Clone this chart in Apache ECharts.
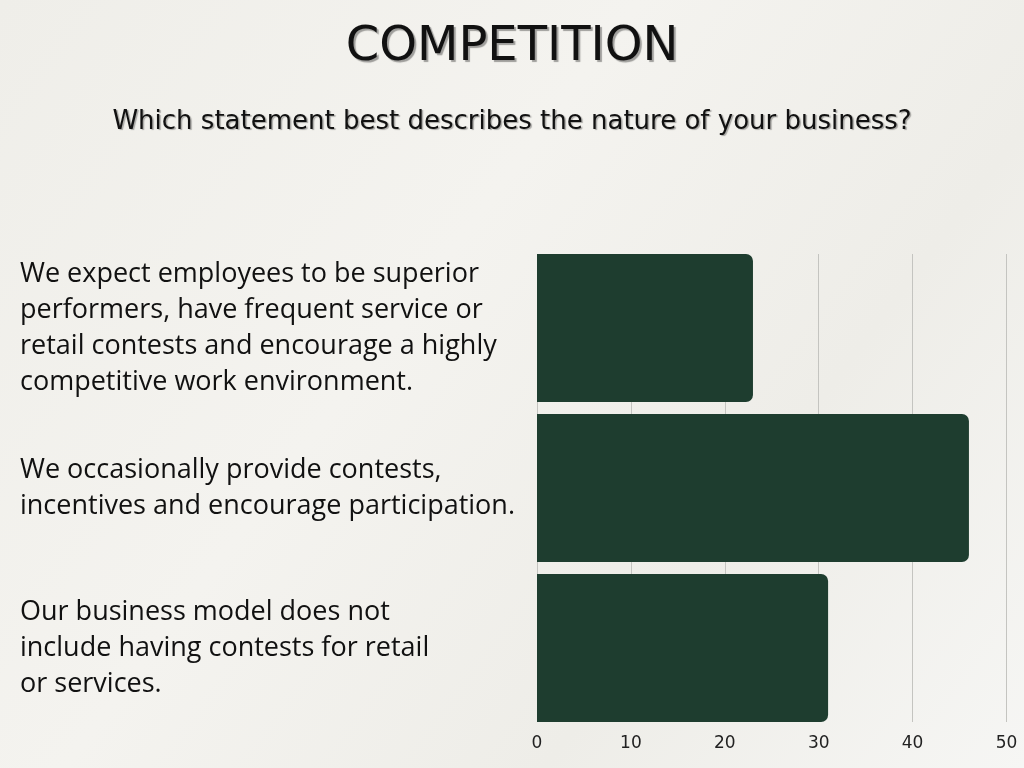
<!DOCTYPE html>
<html>
<head>
<meta charset="utf-8">
<script src="https://cdn.jsdelivr.net/npm/echarts@6/dist/echarts.min.js"></script>
<style>
html,body{margin:0;padding:0;width:1024px;height:768px;overflow:hidden;}
#chart{width:1024px;height:768px;}
</style>
</head>
<body>
<div id="chart"></div>
<script>
const titleText = "COMPETITION";
const subtitleText = "Which statement best describes the nature of your business?";
const categories = [
  "We expect employees to be superior\nperformers, have frequent service or\nretail contests and encourage a highly\ncompetitive work environment.",
  "We occasionally provide contests,\nincentives and encourage participation.",
  "Our business model does not\ninclude having contests for retail\nor services."
];
const values = [23, 46, 31];
const xTicks = [0, 10, 20, 30, 40, 50];

const chart = echarts.init(document.getElementById('chart'));
chart.setOption({
  animation: false,
  backgroundColor: {
    type: 'linear', x: 0, y: 0, x2: 1, y2: 1,
    colorStops: [
      {offset: 0, color: '#efeee9'},
      {offset: 0.4, color: '#f4f3ef'},
      {offset: 0.7, color: '#eeede8'},
      {offset: 1, color: '#f6f6f4'}
    ]
  },
  title: [
    {
      text: titleText, left: 'center', top: 19,
      textStyle: {fontFamily: 'DejaVu Sans', fontWeight: 'normal', fontSize: 48, color: '#111',
        textShadowColor: 'rgba(0,0,0,0.35)', textShadowOffsetX: 2, textShadowOffsetY: 2, textShadowBlur: 1}
    },
    {
      text: subtitleText, left: 'center', top: 104,
      textStyle: {fontFamily: 'DejaVu Sans', fontWeight: 'normal', fontSize: 26, color: '#111',
        textShadowColor: 'rgba(0,0,0,0.3)', textShadowOffsetX: 1.5, textShadowOffsetY: 1.5, textShadowBlur: 1}
    }
  ],
  grid: [
    {left: 537, right: 1024 - 1006.5, top: 248, bottom: 768 - 728, containLabel: false},
    {left: 537, right: 1024 - 1006.5, top: 254, bottom: 768 - 722, containLabel: false}
  ],
  xAxis: [
    {
      gridIndex: 0, type: 'value', min: 0, max: 50, interval: 10,
      axisLine: {show: false}, axisTick: {show: false},
      splitLine: {show: false}, axisLabel: {show: false}
    },
    {
      gridIndex: 1, type: 'value', min: 0, max: 50, interval: 10,
      axisLine: {show: false}, axisTick: {show: false},
      splitLine: {show: true, lineStyle: {color: '#c4c4c0', width: 1}},
      axisLabel: {
        fontFamily: 'DejaVu Sans', fontSize: 17, color: '#222', margin: 13,
        formatter: function (v) { return xTicks.indexOf(v) >= 0 ? String(v) : ''; }
      }
    }
  ],
  yAxis: [
    {
      gridIndex: 0, type: 'category', data: categories, inverse: true,
      axisLine: {show: false}, axisTick: {show: false},
      axisLabel: {
        align: 'left', margin: 517,
        fontFamily: 'Open Sans', fontSize: 27, lineHeight: 36, color: '#111'
      }
    },
    {
      gridIndex: 1, type: 'category', data: categories, inverse: true, show: false
    }
  ],
  series: [{
    type: 'bar', data: values, xAxisIndex: 0, yAxisIndex: 0,
    barCategoryGap: '7.5%', z: 3,
    itemStyle: {color: '#1e3d2f', borderRadius: [0, 7, 7, 0]}
  }]
});
</script>
</body>
</html>
